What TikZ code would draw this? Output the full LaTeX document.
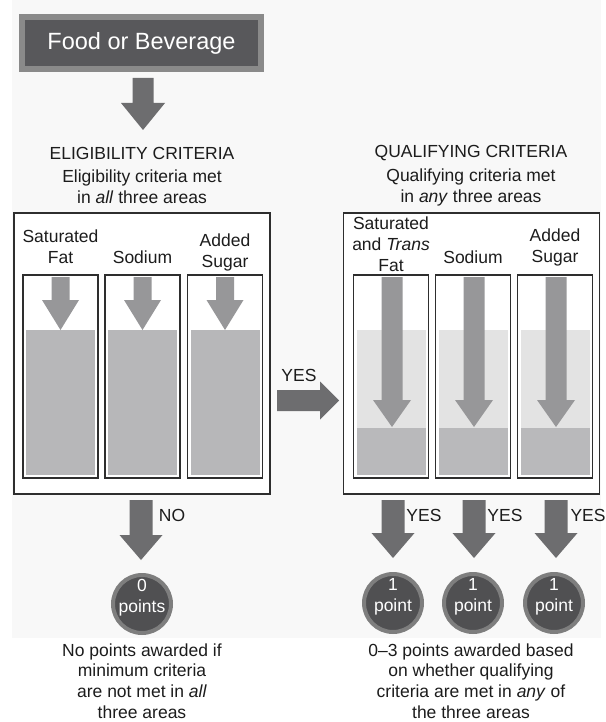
\documentclass[tikz,border=0pt]{standalone}
\usepackage{fontspec}
\setmainfont{Liberation Sans}
\definecolor{txt}{HTML}{1C1C1C}
\definecolor{bgpale}{HTML}{F8F8F8}
\definecolor{topring}{HTML}{8A8A8A}
\definecolor{topfill}{HTML}{58585B}
\definecolor{arrowdark}{HTML}{6D6D6F}
\definecolor{arrowlight}{HTML}{979799}
\definecolor{boxline}{HTML}{2E2E2E}
\definecolor{leftfill}{HTML}{B7B7B9}
\definecolor{rightlight}{HTML}{E3E3E3}
\definecolor{rightdark}{HTML}{B9B9BB}
\definecolor{circring}{HTML}{7E7E7E}
\definecolor{circfill}{HTML}{505052}
\tikzset{
  pics/darrow/.style args={#1/#2/#3/#4}{code={
    \fill[pic actions] (-#1,0) -- (#1,0) -- (#1,#3) -- (#2,#3) -- (0,#4) -- (-#2,#3) -- (-#1,#3) -- cycle;}},
  pics/rarrow/.style args={#1/#2/#3/#4}{code={
    \fill[pic actions] (0,-#1) -- (#3,-#1) -- (#3,-#2) -- (#4,0) -- (#3,#2) -- (#3,#1) -- (0,#1) -- cycle;}},
  outerbox/.style={draw=boxline, line width=1.6pt, fill=white, minimum width=256pt, minimum height=281pt},
  colbox/.style={draw=boxline, line width=1.6pt, minimum width=75pt, minimum height=203pt},
  ptcircle/.style={circle, draw=circring, line width=4pt, fill=circfill, minimum size=58pt},
  wtext/.style={text=white},
  notetext/.style={font=\fontsize{17.5}{20.6}\selectfont},
}
\begin{document}
\begin{tikzpicture}[x=1pt,y=-1pt, every node/.style={text=txt, font=\fontsize{17.5}{21}\selectfont, inner sep=0pt, align=center}]
\useasboundingbox (0,0) rectangle (605,722);
\fill[bgpale] (12,0) rectangle (601,638);

% top box
\node[draw=topring, line width=6pt, fill=topfill, minimum width=239pt, minimum height=52pt, text=white, font=\fontsize{23.5}{28}\selectfont] (food) at (141.5,43) {Food or Beverage};
\pic[fill=arrowdark] at (143,78) {darrow={10.5/22/25/52}};

% headings
\node (elig) at (142,153) {ELIGIBILITY CRITERIA};
\node (eligsub) at (142,187) {Eligibility criteria met\\in \textit{all} three areas};
\node (qual) at (471,153) {QUALIFYING CRITERIA};
\node (qualsub) at (471,187) {Qualifying criteria met\\in \textit{any} three areas};

% left box
\node[outerbox] (lbox) at (142,353.5) {};
\foreach \n/\cx in {l1/60.5, l2/142.5, l3/225} {
  \fill[leftfill] (\cx-34.5,330) rectangle (\cx+34.5,475);
  \node[colbox] (\n) at (\cx,376.5) {};
  \pic[fill=arrowlight] at (\cx,277) {darrow={9/18.5/23/53}};
}
\node (l1lab) at (60.5,247) {Saturated\\Fat};
\node (l2lab) at (142.5,257) {Sodium};
\node (l3lab) at (225,252) {Added\\Sugar};

% right box
\node[outerbox] (rbox) at (471.5,353.5) {};
\foreach \n/\cx in {r1/391, r2/473, r3/555} {
  \fill[rightlight] (\cx-34.5,330) rectangle (\cx+34.5,475);
  \fill[rightdark] (\cx-34.5,428) rectangle (\cx+34.5,475);
  \node[colbox] (\n) at (\cx,376.5) {};
  \pic[fill=arrowlight] at (\cx+1,277) {darrow={10.5/19/123/150}};
}
\node (r1lab) at (391,244) {Saturated\\and \textit{Trans}\\Fat};
\node (r2lab) at (473,257) {Sodium};
\node (r3lab) at (555,247) {Added\\Sugar};

% YES arrow between boxes
\pic[fill=arrowdark] at (277,400.5) {rarrow={10.5/19/43/62}};
\node (yesmid) at (299,375) {YES};

% bottom arrows
\pic[fill=arrowdark] at (141,500) {darrow={11.5/21.5/35/60}};
\node (no) at (172,515) {NO};
\foreach \cx/\lx/\nm in {393/424/y1, 474/505/y2, 556/588/y3} {
  \pic[fill=arrowdark] at (\cx,500) {darrow={11.5/21.5/33/58}};
  \node (\nm) at (\lx,515) {YES};
}

% point circles
\node[ptcircle] (c0) at (142,604) {};
\node[wtext] (c0t) at (142,598) {0\\points};
\foreach \cx/\nm in {393/c1, 473/c2, 554/c3} {
  \node[ptcircle] (\nm) at (\cx,603) {};
  \node[wtext] (\nm t) at (\cx,597) {1\\point};
}

% bottom notes
\node[notetext] (noteL) at (142,681) {No points awarded if\\minimum criteria\\are not met in \textit{all}\\three areas};
\node[notetext] (noteR) at (471,681) {0--3 points awarded based\\on whether qualifying\\criteria are met in \textit{any} of\\the three areas};
\end{tikzpicture}
\end{document}
